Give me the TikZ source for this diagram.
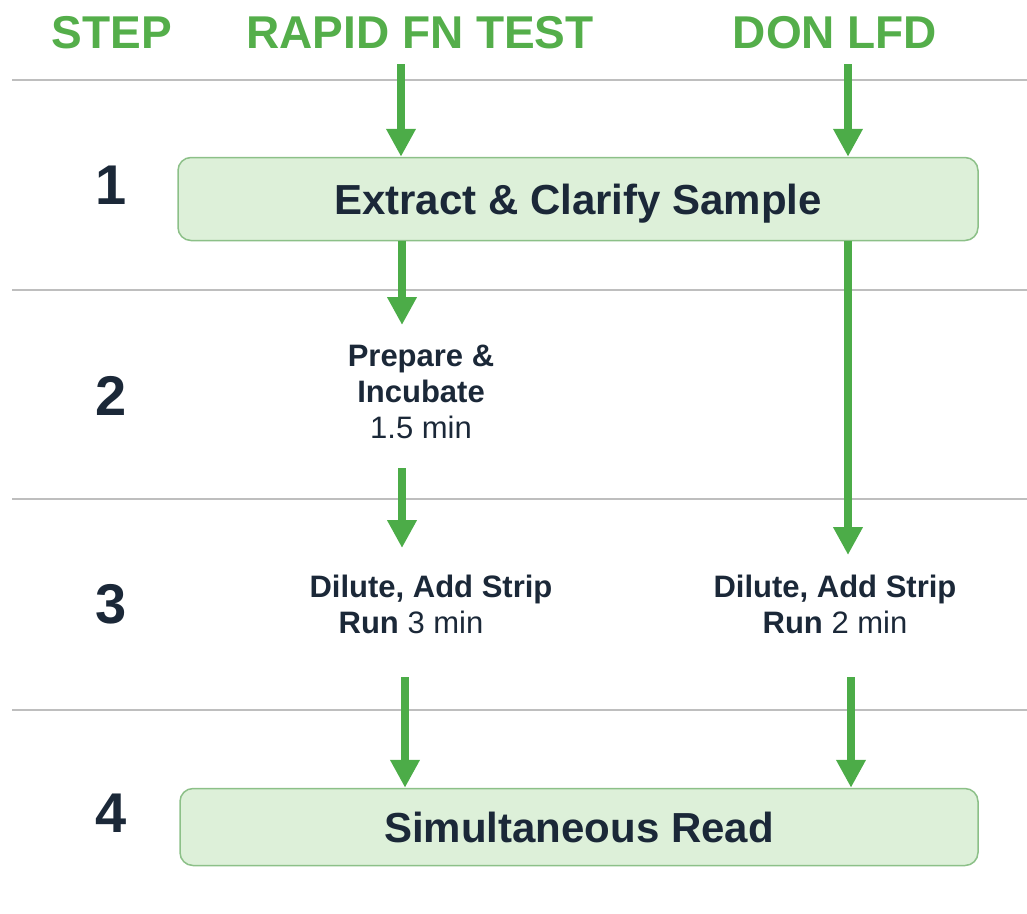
\documentclass[tikz,border=0pt]{standalone}
\usepackage{fontspec}
\setmainfont{Liberation Sans}
\usetikzlibrary{arrows.meta}
\definecolor{hdrgreen}{RGB}{84,174,74}
\definecolor{arrgreen}{RGB}{76,172,72}
\definecolor{boxfill}{RGB}{221,240,217}
\definecolor{boxedge}{RGB}{140,192,136}
\definecolor{darktxt}{RGB}{27,40,56}
\definecolor{rulegray}{RGB}{190,190,190}
\begin{document}
\begin{tikzpicture}[x=1pt,y=-1pt,
  hdr/.style={text=hdrgreen,font=\fontsize{46}{50}\selectfont\bfseries,inner sep=0pt},
  stepnum/.style={text=darktxt,font=\fontsize{56}{60}\selectfont\bfseries,inner sep=0pt},
  boxnode/.style={draw=boxedge,fill=boxfill,line width=1.5pt,rounded corners=13pt,
    text=darktxt,font=\fontsize{42}{46}\selectfont\bfseries,inner sep=0pt,text depth=0pt},
  lbl/.style={text=darktxt,font=\fontsize{31}{36}\selectfont,align=center,inner sep=0pt},
  arr/.style={draw=arrgreen,line width=8pt,-{Triangle[width=28pt,length=28pt]}},
  rule/.style={draw=rulegray,line width=1.8pt}]
\useasboundingbox (0,0) rectangle (1027,913);
% headers
\node[hdr] (hStep) at (112,33) {STEP};
\node[hdr] (hRapid) at (420,33) {RAPID FN TEST};
\node[hdr] (hDon) at (835,33) {DON LFD};
% rules
\coordinate (r1a) at (12,80);  \coordinate (r1b) at (1027,80);
\coordinate (r2a) at (12,290); \coordinate (r2b) at (1027,290);
\coordinate (r3a) at (12,499); \coordinate (r3b) at (1027,499);
\coordinate (r4a) at (12,710); \coordinate (r4b) at (1027,710);
\draw[rule] (r1a) -- (r1b);
\draw[rule] (r2a) -- (r2b);
\draw[rule] (r3a) -- (r3b);
\draw[rule] (r4a) -- (r4b);
% step numbers
\node[stepnum] (s1) at (111,185) {1};
\node[stepnum] (s2) at (111,396) {2};
\node[stepnum] (s3) at (111,604) {3};
\node[stepnum] (s4) at (111,813) {4};
% boxes
\node[boxnode,minimum width=800pt,minimum height=83pt] (b1) at (578,199) {Extract \& Clarify Sample};
\node[boxnode,minimum width=798pt,minimum height=77pt] (b4) at (579,827) {Simultaneous Read};
% labels
\node[lbl] (prep) at (421,392) {\textbf{Prepare \&}\\\textbf{Incubate}\\1.5 min};
\node[lbl] (dilL) at (431,604) {\textbf{Dilute, Add Strip}\\\textbf{Run} 3 min\hspace*{40pt}};
\node[lbl] (dilR) at (835,604) {\textbf{Dilute, Add Strip}\\\textbf{Run} 2 min};
% arrow coordinates
\coordinate (a1Ls) at (401,64);
\coordinate (a1Rs) at (848,64);
\coordinate (a2Le) at (402,325);
\coordinate (a3Ls) at (402,468);
\coordinate (a3Le) at (402,548);
\coordinate (aRe) at (848,555);
\coordinate (a4Ls) at (405,677);
\coordinate (a4Rs) at (851,677);
% arrows
\draw[arr] (a1Ls) -- (a1Ls |- b1.north);
\draw[arr] (a1Rs) -- (a1Rs |- b1.north);
\draw[arr] (b1.south -| a2Le) -- (a2Le);
\draw[arr] (a3Ls) -- (a3Le);
\draw[arr] (b1.south -| aRe) -- (aRe);
\draw[arr] (a4Ls) -- (a4Ls |- b4.north);
\draw[arr] (a4Rs) -- (a4Rs |- b4.north);
\end{tikzpicture}
\end{document}
